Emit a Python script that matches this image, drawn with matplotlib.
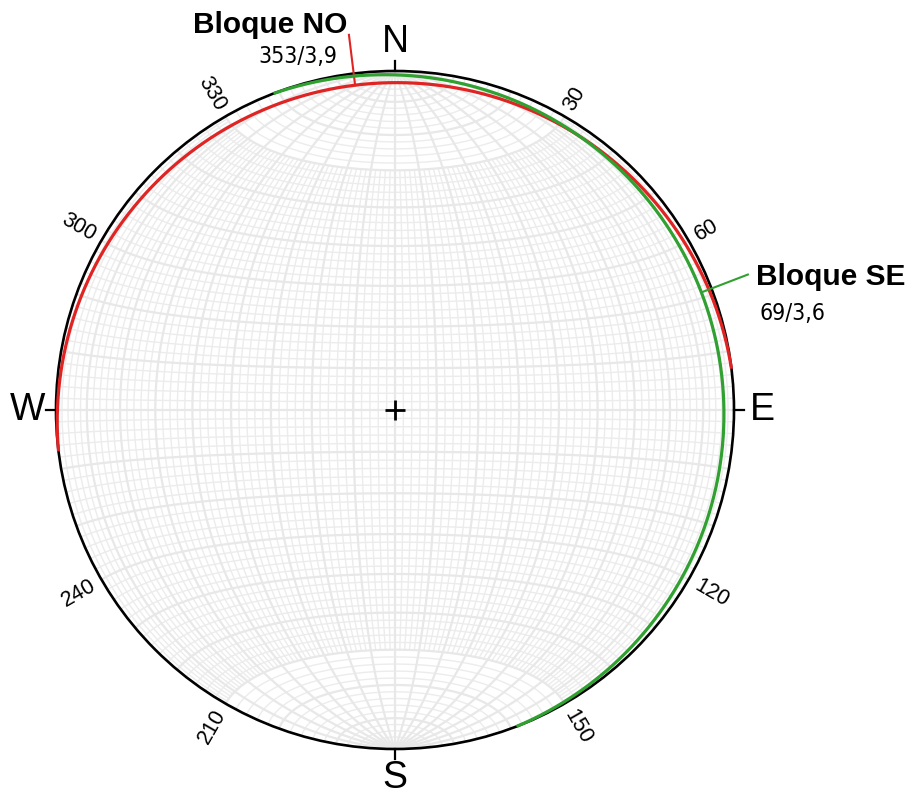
import numpy as np
import matplotlib
matplotlib.use("Agg")
import matplotlib.pyplot as plt
from matplotlib import font_manager
from matplotlib.patches import Circle

# Planes (dip direction / dip) and how they are drawn
plane_names = ["Bloque NO", "Bloque SE"]
dip_directions = [353, 69]
dips = [3.9, 3.6]
plane_colors = ["#e02424", "#30a030"]

# Azimuth labels around the primitive
cardinal_azimuths = [0, 90, 180, 270]
cardinal_labels = ["N", "E", "S", "W"]
number_azimuths = [30, 60, 120, 150, 210, 240, 300, 330]

FONT = "Liberation Sans"


def narrow_font():
    """Pick a condensed face for the value labels if one is installed."""
    try:
        font_manager.findfont(font_manager.FontProperties(family="Liberation Sans Narrow"),
                              fallback_to_default=False)
        return dict(family="Liberation Sans Narrow", fontsize=18)
    except Exception:
        pass
    try:
        path = font_manager.findfont(
            font_manager.FontProperties(family="DejaVu Sans", stretch="condensed"),
            fallback_to_default=False)
        if "Condensed" in path:
            return dict(family="DejaVu Sans", fontstretch="condensed", fontsize=16.5)
    except Exception:
        pass
    return dict(family=FONT, fontsize=16)


VALUE_FONT = narrow_font()


def project(e, n, d):
    """Lambert equal-area, lower hemisphere; unit radius at the primitive."""
    s = 1.0 / np.sqrt(1.0 + d)
    return e * s, n * s


def azimuth_xy(az, r):
    a = np.radians(az)
    return r * np.sin(a), r * np.cos(a)


def great_circle(dipdir, dip, npts=721):
    t = np.radians(np.linspace(0, 180, npts))
    dd = np.radians(dipdir)
    dp = np.radians(dip)
    strike = np.array([np.sin(dd - np.pi / 2), np.cos(dd - np.pi / 2), 0.0])
    dipv = np.array([np.cos(dp) * np.sin(dd), np.cos(dp) * np.cos(dd), np.sin(dp)])
    v = np.outer(np.cos(t), strike) + np.outer(np.sin(t), dipv)
    return project(v[:, 0], v[:, 1], v[:, 2])


fig = plt.figure(figsize=(9.17, 7.96), dpi=100)
ax = fig.add_axes([0, 0, 1, 1])
R_PX = 339.0
ax.set_xlim(-395 / R_PX, (917 - 395) / R_PX)
ax.set_ylim(-(796 - 410) / R_PX, 410 / R_PX)
ax.axis("off")

clip = Circle((0, 0), 1.0, transform=ax.transData)

# Schmidt net: meridians about the N-S axis and small circles
minor_c, major_c = "#ececec", "#e8e8e8"
minor_lw, major_lw = 1.0, 1.6
phi_full = np.radians(np.linspace(-90, 90, 361))
for lam_deg in range(-88, 89, 2):
    lam = np.radians(lam_deg)
    major = lam_deg % 10 == 0
    phi = phi_full if major else phi_full[np.abs(phi_full) <= np.radians(60) + 1e-9]
    e = np.cos(phi) * np.sin(lam)
    n = np.sin(phi)
    d = np.cos(phi) * np.cos(lam)
    x, y = project(e, n, d)
    ln, = ax.plot(x, y, color=major_c if major else minor_c,
                  lw=major_lw if major else minor_lw, zorder=2 if major else 1)
    ln.set_clip_path(clip)

lam_all = np.radians(np.linspace(-90, 90, 361))
for phi_deg in range(-88, 89, 2):
    phi = np.radians(phi_deg)
    major = phi_deg % 10 == 0
    e = np.cos(phi) * np.sin(lam_all)
    n = np.full_like(lam_all, np.sin(phi))
    d = np.cos(phi) * np.cos(lam_all)
    x, y = project(e, n, d)
    ln, = ax.plot(x, y, color=major_c if major else minor_c,
                  lw=major_lw if major else minor_lw, zorder=2 if major else 1)
    ln.set_clip_path(clip)

# Primitive circle and cardinal ticks
ax.add_patch(Circle((0, 0), 1.0, fill=False, ec="black", lw=1.9, zorder=4))
for az, lab in zip(cardinal_azimuths, cardinal_labels):
    x0, y0 = azimuth_xy(az, 1.0)
    x1, y1 = azimuth_xy(az, 1.03)
    ax.plot([x0, x1], [y0, y1], color="black", lw=1.6, zorder=4)
    xt, yt = azimuth_xy(az, 1.085)
    ax.text(xt, yt, lab, fontsize=27, family=FONT, ha="center", va="center")

for az in number_azimuths:
    xt, yt = azimuth_xy(az, 1.025)
    if az < 180:
        ax.text(xt, yt, str(az), fontsize=15.5, family=FONT, rotation=90 - az,
                rotation_mode="anchor", ha="left", va="center")
    else:
        ax.text(xt, yt, str(az), fontsize=15.5, family=FONT, rotation=270 - az,
                rotation_mode="anchor", ha="right", va="center")

# Centre mark
ax.plot(0, 0, marker="+", color="black", ms=14, mew=2, zorder=6)

# Great circles with leaders and labels
px = 0.72  # points per pixel at 100 dpi
label_offsets = {
    "Bloque NO": ((-2, 2), (-12, -28), "right"),
    "Bloque SE": ((8, -10.5), (12, -45.5), "left"),
}
for name, dd, dp, col in zip(plane_names, dip_directions, dips, plane_colors):
    x, y = great_circle(dd, dp)
    ax.plot(x, y, color=col, lw=2.3, zorder=5, solid_capstyle="butt")
    # leader from the deepest point of the circle outward
    d_low = np.sin(np.radians(dp))
    h = np.cos(np.radians(dp))
    r_low = np.hypot(*project(h, 0.0, d_low))
    xa, ya = azimuth_xy(dd, r_low)
    xb, yb = azimuth_xy(dd, 1.115)
    ax.plot([xa, xb], [ya, yb], color=col, lw=1.5, zorder=5)
    off_name, off_val, ha = label_offsets[name]
    ax.annotate(name, (xb, yb), xytext=(off_name[0] * px, off_name[1] * px),
                textcoords="offset points", fontsize=21.5, fontweight="bold",
                family=FONT, ha=ha, va="baseline")
    value = f"{dd}/{dp}".replace(".", ",")
    ax.annotate(value, (xb, yb), xytext=(off_val[0] * px, off_val[1] * px),
                textcoords="offset points", ha=ha, va="baseline", **VALUE_FONT)

fig.savefig("out.png", dpi=100, facecolor="white")
